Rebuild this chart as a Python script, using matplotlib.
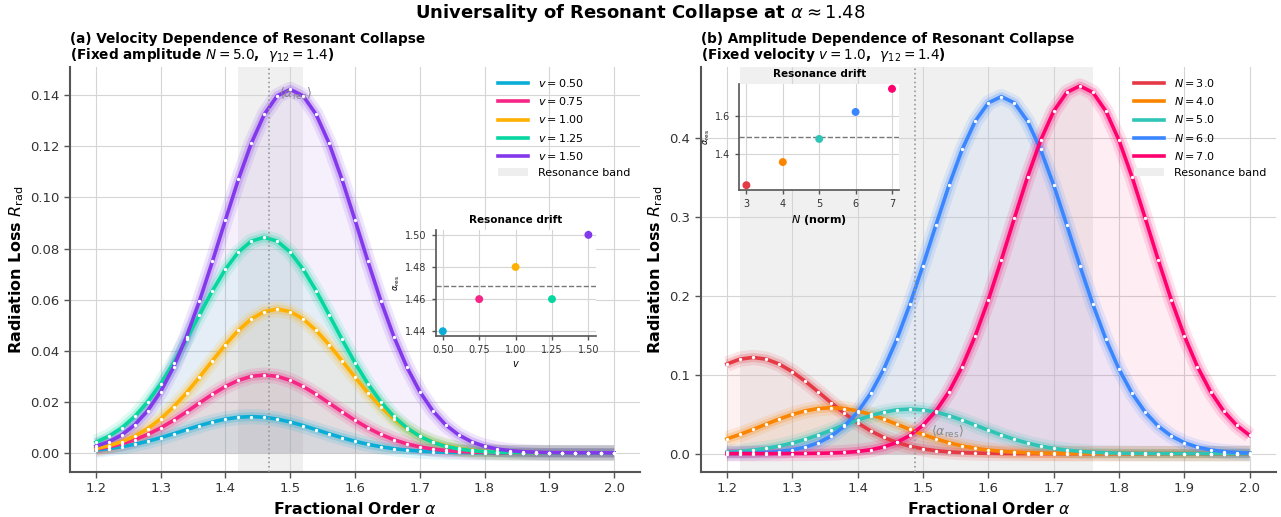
import numpy as np
import matplotlib
matplotlib.use("Agg")
import matplotlib.pyplot as plt
from matplotlib.patches import Patch
from matplotlib.lines import Line2D

plt.rcParams['font.family'] = ['DejaVu Sans']

# ---------------- data ----------------
alpha = np.linspace(1.2, 2.0, 41)

velocity_labels = ["$v=0.50$", "$v=0.75$", "$v=1.00$", "$v=1.25$", "$v=1.50$"]
velocity_values = [0.50, 0.75, 1.00, 1.25, 1.50]
velocity_res = [1.44, 1.46, 1.48, 1.46, 1.50]
velocity_colors = ["#0AADD6", "#F72585", "#FFB000", "#06D6A0", "#8338EC"]

R_v050 = [0.00109, 0.00165, 0.00240, 0.00336, 0.00455, 0.00594, 0.00748, 0.00910, 0.01068, 0.01210,
          0.01322, 0.01395, 0.01420, 0.01395, 0.01322, 0.01210, 0.01068, 0.00910, 0.00748, 0.00594,
          0.00455, 0.00336, 0.00240, 0.00165, 0.00109, 0.00070, 0.00043, 0.00026, 0.00015, 0.00008,
          0.00004, 0.00002, 0.00001, 0.0, 0.0, 0.0, 0.0, 0.0, 0.0, 0.0, 0.0]
R_v075 = [0.00151, 0.00235, 0.00354, 0.00515, 0.00721, 0.00976, 0.01275, 0.01607, 0.01954, 0.02294,
          0.02599, 0.02840, 0.02996, 0.03050, 0.02996, 0.02840, 0.02599, 0.02294, 0.01954, 0.01607,
          0.01275, 0.00976, 0.00721, 0.00515, 0.00354, 0.00235, 0.00151, 0.00093, 0.00056, 0.00032,
          0.00018, 0.00009, 0.00005, 0.00002, 0.00001, 0.0, 0.0, 0.0, 0.0, 0.0, 0.0]
R_v100 = [0.00172, 0.00278, 0.00434, 0.00654, 0.00950, 0.01331, 0.01802, 0.02353, 0.02966, 0.03608,
          0.04235, 0.04797, 0.05243, 0.05531, 0.05630, 0.05531, 0.05243, 0.04797, 0.04235, 0.03608,
          0.02966, 0.02353, 0.01802, 0.01331, 0.00950, 0.00654, 0.00434, 0.00278, 0.00172, 0.00102,
          0.00059, 0.00033, 0.00017, 0.00009, 0.00005, 0.00002, 0.00001, 0.0, 0.0, 0.0, 0.0]
R_v125 = [0.00417, 0.00651, 0.00980, 0.01424, 0.01996, 0.02702, 0.03528, 0.04447, 0.05408, 0.06349,
          0.07191, 0.07860, 0.08291, 0.08440, 0.08291, 0.07860, 0.07191, 0.06349, 0.05408, 0.04447,
          0.03528, 0.02702, 0.01996, 0.01424, 0.00980, 0.00651, 0.00417, 0.00257, 0.00154, 0.00089,
          0.00049, 0.00026, 0.00014, 0.00007, 0.00003, 0.00002, 0.00001, 0.0, 0.0, 0.0, 0.0]
R_v150 = [0.00259, 0.00434, 0.00703, 0.01097, 0.01652, 0.02401, 0.03365, 0.04555, 0.05948, 0.07498,
          0.09119, 0.10704, 0.12124, 0.13252, 0.13980, 0.14230, 0.13980, 0.13252, 0.12124, 0.10704,
          0.09119, 0.07498, 0.05948, 0.04555, 0.03365, 0.02401, 0.01652, 0.01097, 0.00703, 0.00434,
          0.00259, 0.00149, 0.00083, 0.00044, 0.00023, 0.00011, 0.00006, 0.00003, 0.00001, 0.0, 0.0]

amp_labels = ["$N=3.0$", "$N=4.0$", "$N=5.0$", "$N=6.0$", "$N=7.0$"]
amp_values = [3, 4, 5, 6, 7]
amp_res = [1.24, 1.36, 1.48, 1.62, 1.74]
amp_colors = ["#E63946", "#FB8500", "#2EC4B6", "#3A86FF", "#FF006E"]

R_N3 = [0.11334, 0.11956, 0.12170, 0.11956, 0.11334, 0.10369, 0.09154, 0.07799, 0.06412, 0.05087,
        0.03896, 0.02878, 0.02053, 0.01413, 0.00938, 0.00601, 0.00371, 0.00221, 0.00128, 0.00071,
        0.00038, 0.00019, 0.00010, 0.00005, 0.00002, 0.00001, 0.0, 0.0, 0.0, 0.0,
        0.0, 0.0, 0.0, 0.0, 0.0, 0.0, 0.0, 0.0, 0.0, 0.0, 0.0]
R_N4 = [0.01860, 0.02429, 0.03061, 0.03723, 0.04370, 0.04950, 0.05411, 0.05708, 0.05810, 0.05708,
        0.05411, 0.04950, 0.04370, 0.03723, 0.03061, 0.02429, 0.01860, 0.01374, 0.00980, 0.00675,
        0.00448, 0.00287, 0.00177, 0.00106, 0.00061, 0.00034, 0.00018, 0.00009, 0.00005, 0.00002,
        0.00001, 0.0, 0.0, 0.0, 0.0, 0.0, 0.0, 0.0, 0.0, 0.0, 0.0]
R_N5 = [0.00172, 0.00279, 0.00435, 0.00655, 0.00951, 0.01334, 0.01805, 0.02358, 0.02972, 0.03614,
        0.04242, 0.04805, 0.05253, 0.05541, 0.05640, 0.05541, 0.05253, 0.04805, 0.04242, 0.03614,
        0.02972, 0.02358, 0.01805, 0.01334, 0.00951, 0.00655, 0.00435, 0.00279, 0.00172, 0.00103,
        0.00059, 0.00033, 0.00017, 0.00009, 0.00005, 0.00002, 0.00001, 0.0, 0.0, 0.0, 0.0]
R_N6 = [0.00018, 0.00036, 0.00072, 0.00140, 0.00262, 0.00474, 0.00822, 0.01378, 0.02232, 0.03483,
        0.05245, 0.07622, 0.10685, 0.14462, 0.18885, 0.23805, 0.28951, 0.33984, 0.38493, 0.42076,
        0.44385, 0.45180, 0.44385, 0.42076, 0.38493, 0.33984, 0.28951, 0.23805, 0.18885, 0.14462,
        0.10685, 0.07622, 0.05245, 0.03483, 0.02232, 0.01378, 0.00822, 0.00474, 0.00262, 0.00140,
        0.00072]
R_N7 = [0.0, 0.0, 0.0, 0.0, 0.00005, 0.00009, 0.00019, 0.00037, 0.00074, 0.00144,
        0.00270, 0.00489, 0.00847, 0.01419, 0.02299, 0.03587, 0.05402, 0.07850, 0.11004, 0.14894,
        0.19450, 0.24517, 0.29816, 0.35000, 0.39644, 0.43333, 0.45711, 0.46530, 0.45711, 0.43333,
        0.39644, 0.35000, 0.29816, 0.24517, 0.19450, 0.14894, 0.11004, 0.07850, 0.05402, 0.03587,
        0.02299]

velocity_series = [R_v050, R_v075, R_v100, R_v125, R_v150]
amp_series = [R_N3, R_N4, R_N5, R_N6, R_N7]

band_left = (1.42, 1.52)
band_right = (1.22, 1.76)

# ---------------- style helpers ----------------
SPINE = "#555555"
TXT = "#333333"


def style_axes(ax, tick_size=9.5, spine_w=1.5):
    for s in ["top", "right"]:
        ax.spines[s].set_visible(False)
    for s in ["left", "bottom"]:
        ax.spines[s].set_color(SPINE)
        ax.spines[s].set_linewidth(spine_w)
    ax.tick_params(colors=SPINE, labelcolor=TXT, labelsize=tick_size, length=4, width=1.0)
    ax.grid(True, color="#d5d5d5", lw=0.8, zorder=0)
    ax.set_axisbelow(True)


def draw_curves(ax, series, colors):
    for y, c in zip(series, colors):
        y = np.asarray(y)
        ax.fill_between(alpha, 0, y, color=c, alpha=0.07, lw=0, zorder=1)
    for y, c in zip(series, colors):
        y = np.asarray(y)
        ax.plot(alpha, y, color=c, lw=11, alpha=0.12, solid_capstyle="butt", zorder=2)
        ax.plot(alpha, y, color=c, lw=6.5, alpha=0.22, solid_capstyle="butt", zorder=2)
        ax.plot(alpha, y, color=c, lw=2.6, alpha=1.0, zorder=3)
        ax.plot(alpha, y, ls="none", marker="o", ms=2.4, mfc="white", mec="none", zorder=4)


def draw_inset(fig, rect, xs, ys, colors, mean_val, xticks, yticks, xlabel, xlabel_bold, ylim, xlim, yfmt):
    ax = fig.add_axes(rect)
    ax.set_facecolor("white")
    style_axes(ax, tick_size=7, spine_w=1.2)
    ax.tick_params(length=3)
    ax.scatter(xs, ys, c=colors, s=22, zorder=3)
    ax.axhline(mean_val, color="#777777", ls="--", lw=1.0, zorder=2)
    ax.set_xticks(xticks)
    ax.set_yticks(yticks)
    ax.set_yticklabels([yfmt.format(t) for t in yticks])
    ax.set_xlim(*xlim)
    ax.set_ylim(*ylim)
    ax.set_title("Resonance drift", fontsize=7.5, fontweight="bold", pad=5)
    ax.set_xlabel(xlabel, fontsize=7 if not xlabel_bold else 8,
                  fontweight="bold" if xlabel_bold else "normal", labelpad=3)
    ax.set_ylabel(r"$\alpha_{\rm res}$", fontsize=6, labelpad=2)
    return ax


fig = plt.figure(figsize=(12.81, 5.17), dpi=100)
fig.suptitle(r"Universality of Resonant Collapse at $\alpha\approx1.48$", fontsize=13,
             fontweight="bold", y=0.996)

axL = fig.add_axes([0.0546, 0.087, 0.445, 0.783])
axR = fig.add_axes([0.547, 0.087, 0.449, 0.783])

LEG_KW = dict(loc="upper right", frameon=False, fontsize=8, bbox_to_anchor=(1.0, 1.0),
              handlelength=2.7, labelspacing=0.55, handletextpad=0.9)

# ---------------- left panel ----------------
style_axes(axL)
mean_left = float(np.mean(velocity_res))
axL.axvspan(*band_left, color="#e6e6e6", alpha=0.6, lw=0, zorder=0.5)
draw_curves(axL, velocity_series, velocity_colors)
axL.axvline(mean_left, color="#999999", ls=":", lw=1.2, zorder=5)
axL.text(mean_left + 0.015, 0.1405, r"$\langle\alpha_{\rm res}\rangle$", fontsize=9,
         color="#888888", ha="left", va="center", zorder=3.5)
axL.set_xlim(1.16, 2.04)
axL.set_ylim(-0.0075, 0.151)
axL.set_xticks(np.arange(1.2, 2.01, 0.1))
axL.set_yticks(np.arange(0, 0.141, 0.02))
axL.set_yticklabels([f"{t:.2f}" for t in np.arange(0, 0.141, 0.02)])
axL.set_xticklabels([f"{t:.1f}" for t in np.arange(1.2, 2.01, 0.1)])
axL.set_xlabel(r"Fractional Order $\alpha$", fontsize=11.3, fontweight="bold", labelpad=4)
axL.set_ylabel(r"Radiation Loss $R_{\rm rad}$", fontsize=11.5, fontweight="bold", labelpad=3)
axL.set_title("(a) Velocity Dependence of Resonant Collapse\n"
              r"(Fixed amplitude $N=5.0$,  $\gamma_{12}=1.4$)",
              loc="left", fontsize=9.8, fontweight="bold", pad=6, linespacing=1.0)

handlesL = [Line2D([0], [0], color=c, lw=2.6) for c in velocity_colors]
handlesL.append(Patch(facecolor="#eeeeee", edgecolor="none"))
axL.legend(handlesL, velocity_labels + ["Resonance band"], **LEG_KW)

draw_inset(fig, [0.340, 0.350, 0.125, 0.205], velocity_values, velocity_res, velocity_colors,
           mean_left, [0.5, 0.75, 1.0, 1.25, 1.5], [1.44, 1.46, 1.48, 1.50], r"$v$", False,
           (1.437, 1.503), (0.45, 1.55), "{:.2f}")

# ---------------- right panel ----------------
style_axes(axR)
mean_right = float(np.mean(amp_res))
axR.axvspan(*band_right, color="#e6e6e6", alpha=0.6, lw=0, zorder=0.5)
draw_curves(axR, amp_series, amp_colors)
axR.axvline(mean_right, color="#999999", ls=":", lw=1.2, zorder=5)
axR.text(mean_right + 0.025, 0.028, r"$\langle\alpha_{\rm res}\rangle$", fontsize=9,
         color="#888888", ha="left", va="center", zorder=3.5)
axR.set_xlim(1.16, 2.04)
axR.set_ylim(-0.0233, 0.489)
axR.set_xticks(np.arange(1.2, 2.01, 0.1))
axR.set_xticklabels([f"{t:.1f}" for t in np.arange(1.2, 2.01, 0.1)])
axR.set_yticks(np.arange(0, 0.41, 0.1))
axR.set_yticklabels([f"{t:.1f}" for t in np.arange(0, 0.41, 0.1)])
axR.set_xlabel(r"Fractional Order $\alpha$", fontsize=11.3, fontweight="bold", labelpad=4)
axR.set_ylabel(r"Radiation Loss $R_{\rm rad}$", fontsize=11.5, fontweight="bold", labelpad=3)
axR.set_title("(b) Amplitude Dependence of Resonant Collapse\n"
              r"(Fixed velocity $v=1.0$,  $\gamma_{12}=1.4$)",
              loc="left", fontsize=9.8, fontweight="bold", pad=6, linespacing=1.0)

handlesR = [Line2D([0], [0], color=c, lw=2.6) for c in amp_colors]
handlesR.append(Patch(facecolor="#eeeeee", edgecolor="none"))
axR.legend(handlesR, amp_labels + ["Resonance band"], **LEG_KW)

draw_inset(fig, [0.577, 0.6325, 0.125, 0.205], amp_values, amp_res, amp_colors,
           mean_right, [3, 4, 5, 6, 7], [1.4, 1.6], r"$N$ (norm)", True,
           (1.215, 1.765), (2.8, 7.2), "{:.1f}")

fig.savefig("out.png", dpi=100)
